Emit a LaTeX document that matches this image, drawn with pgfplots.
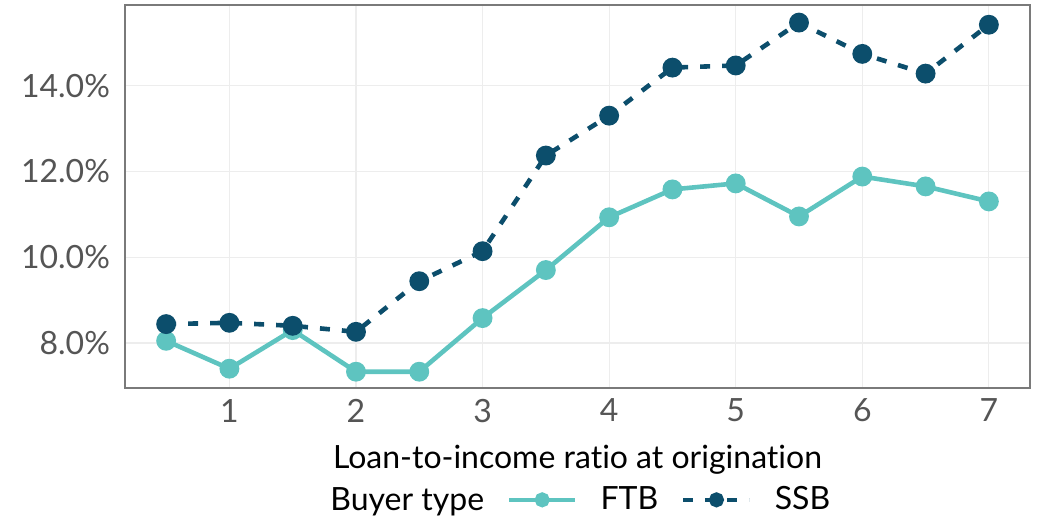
\documentclass[border=0pt]{standalone}
\usepackage{pgfplots}
\pgfplotsset{compat=1.18}
\usepackage{fontspec}
\setmainfont{Lato}[Ligatures=NoCommon]
\definecolor{ftb}{HTML}{5EC4C0}
\definecolor{ssb}{HTML}{0C4E6C}
\definecolor{tickgrey}{HTML}{555555}
\definecolor{framegrey}{HTML}{7A7A7A}
\definecolor{gridgrey}{HTML}{EDEDED}
\begin{document}
\begin{tikzpicture}
\useasboundingbox (-62.5pt,-66pt) rectangle (457.5pt,194pt);
\begin{axis}[
  scale only axis,
  width=452.5pt, height=191.5pt,
  xmin=0.175, xmax=7.325,
  ymin=6.95, ymax=15.88,
  xtick={1,2,3,4,5,6,7},
  ytick={8,10,12,14},
  yticklabels={8.0\%,10.0\%,12.0\%,14.0\%},
  /pgf/number format/assume math mode=true,
  tick style={draw=none},
  axis line style={framegrey, line width=0.8pt},
  grid=major,
  major grid style={gridgrey, line width=0.6pt},
  ticklabel style={font=\fontsize{16}{18}\selectfont, text=tickgrey},
  xticklabel style={yshift=-2pt},
  yticklabel style={xshift=-4pt},
  xlabel={Loan-to-income ratio at origination},
  xlabel style={font=\fontsize{16}{18}\selectfont, at={(axis description cs:0.5,0)}, anchor=center, yshift=-36pt},
  legend style={draw=none, fill=none, at={(axis description cs:0.422,-0.292)}, anchor=west,
    inner sep=0pt, outer sep=0pt,
    legend columns=-1, font=\fontsize{16}{18}\selectfont,
    /tikz/every even column/.append style={column sep=7.5pt},
    nodes={inner xsep=4pt}},
  legend image code/.code={\draw[#1,mark repeat=2,mark phase=2,mark size=2.6pt] plot coordinates {(0pt,0pt) (16.5pt,0pt) (33pt,0pt)};},
]
\addplot[ftb, line width=2.3pt, mark=*, mark size=3.8pt, mark options={solid}] coordinates {
(0.5,8.05) (1,7.40) (1.5,8.30) (2,7.33) (2.5,7.33) (3,8.58) (3.5,9.70)
(4,10.93) (4.5,11.58) (5,11.72) (5.5,10.95) (6,11.88) (6.5,11.65) (7,11.30)};
\addlegendentry{\hspace{7.5pt}FTB}
\addplot[ssb, line width=2.3pt, dash pattern=on 5pt off 6pt, mark=*, mark size=3.8pt, mark options={solid}] coordinates {
(0.5,8.44) (1,8.47) (1.5,8.40) (2,8.26) (2.5,9.44) (3,10.14) (3.5,12.37)
(4,13.30) (4.5,14.42) (5,14.47) (5.5,15.47) (6,14.74) (6.5,14.28) (7,15.42)};
\addlegendentry{\hspace{7.5pt}SSB}
\end{axis}
\node[anchor=base west, inner sep=0pt, font=\fontsize{16}{18}\selectfont] at (102.5pt,-61pt) {Buyer type};
\end{tikzpicture}
\end{document}
